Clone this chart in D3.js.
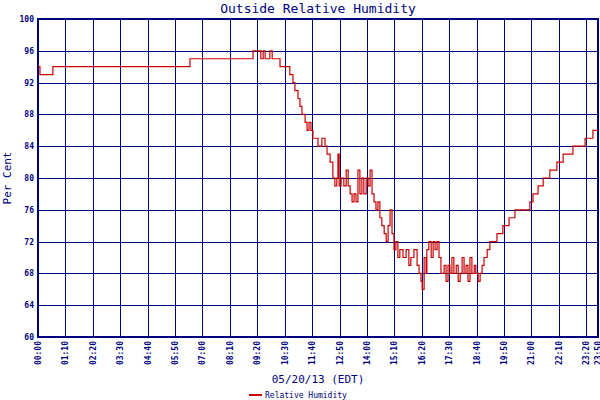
<!DOCTYPE html>
<html>
<head>
<meta charset="utf-8">
<script src="https://cdn.jsdelivr.net/npm/d3@7"></script>
<style>
  body { margin: 0; background: #fff; }
  text { font-family: "DejaVu Sans Mono", monospace; fill: #00007f; }
</style>
</head>
<body>
<div id="chart"></div>
<script>
// minutes since midnight, 05/20/13
var times = [0,5,38,388,549,569,575,580,592,598,618,643,651,656,664,669,674,682,687,692,697,702,715,725,733,738,746,753,758,763,766,769,774,781,787,792,797,802,807,812,817,822,827,832,838,843,848,853,858,863,868,873,878,884,889,894,899,904,909,914,919,924,932,940,947,952,960,968,973,978,981,986,991,993,998,1004,1009,1014,1019,1024,1029,1037,1042,1047,1052,1057,1062,1068,1073,1078,1083,1088,1093,1098,1103,1108,1114,1118,1124,1129,1134,1139,1147,1154,1164,1172,1187,1203,1218,1256,1264,1277,1290,1307,1325,1341,1366,1397,1417,1430];
var humidity = [94,93,94,95,96,95,96,95,96,95,94,93,92,91,90,89,88,87,86,87,86,85,84,85,84,83,82,80,79,80,83,79,80,79,81,79,78,77,78,77,81,78,80,78,80,79,81,78,77,76,77,75,74,73,72,74,76,73,71,72,70,71,70,71,69,70,71,69,68,67,66,70,68,71,72,70,72,71,72,70,68,69,67,69,68,70,68,69,67,68,70,68,69,67,70,68,69,68,67,68,69,70,71,72,72,73,74,75,76,77,78,79,80,81,82,83,84,85,86,86];
var xTicks = ["00:00","01:10","02:20","03:30","04:40","05:50","07:00","08:10","09:20","10:30","11:40","12:50","14:00","15:10","16:20","17:30","18:40","19:50","21:00","22:10","23:20","23:50"];
var yTicks = [60,64,68,72,76,80,84,88,92,96,100];

var margin = { top: 19, right: 2, bottom: 63, left: 38 };
var width = 600 - margin.left - margin.right;
var height = 400 - margin.top - margin.bottom;
var navy = "#00007f";

function toMin(s) { var p = s.split(":"); return +p[0] * 60 + +p[1]; }

var svg = d3.select("#chart").append("svg")
    .attr("width", 600).attr("height", 400);
var g = svg.append("g")
    .attr("transform", "translate(" + margin.left + "," + margin.top + ")");

var x = d3.scaleLinear().domain([0, 1430]).range([0, width]);
var y = d3.scaleLinear().domain([60, 100]).range([height, 0]);

// grid
g.selectAll(".hg").data(yTicks).enter().append("line")
    .attr("x1", 0).attr("x2", width)
    .attr("y1", function(d) { return Math.round(y(d)) + 0.5; }).attr("y2", function(d) { return Math.round(y(d)) + 0.5; })
    .attr("stroke", navy).attr("stroke-width", 1);
g.selectAll(".vg").data(xTicks).enter().append("line")
    .attr("x1", function(d) { return Math.round(x(toMin(d))) + 0.5; }).attr("x2", function(d) { return Math.round(x(toMin(d))) + 0.5; })
    .attr("y1", 0).attr("y2", height)
    .attr("stroke", navy).attr("stroke-width", 1);
g.append("rect").attr("width", width).attr("height", height)
    .attr("fill", "none").attr("stroke", navy).attr("stroke-width", 2);

// axes labels
g.append("g").attr("transform", "translate(-4,0)")
    .call(d3.axisLeft(y).tickValues(yTicks).tickSize(0).tickPadding(0))
    .call(function(a) { a.select(".domain").remove(); })
    .selectAll("text").style("font-size", "8px").style("font-weight", "bold").attr("fill", navy);

g.selectAll(".xl").data(xTicks).enter().append("text")
    .attr("transform", function(d) { return "translate(" + (x(toMin(d)) + 3) + "," + (height + 4) + ") rotate(-90)"; })
    .attr("text-anchor", "end")
    .style("font-size", "8px").style("font-weight", "bold")
    .text(function(d) { return d; });

// line
var line = d3.line()
    .x(function(d, i) { return x(times[i]); })
    .y(function(d) { return y(d); })
    .curve(d3.curveStepAfter);
g.append("path").datum(humidity)
    .attr("d", line).attr("fill", "none")
    .attr("stroke", "#cc0000").attr("stroke-width", 1.2);

// titles
svg.append("text").attr("x", 318).attr("y", 13).attr("text-anchor", "middle")
    .style("font-size", "13px").text("Outside Relative Humidity");
svg.append("text").attr("transform", "translate(11,178) rotate(-90)").attr("text-anchor", "middle")
    .style("font-size", "11px").text("Per Cent");
svg.append("text").attr("x", 318).attr("y", 383).attr("text-anchor", "middle")
    .style("font-size", "11px").text("05/20/13 (EDT)");

// legend
svg.append("line").attr("x1", 249).attr("x2", 262).attr("y1", 395).attr("y2", 395)
    .attr("stroke", "#cc0000").attr("stroke-width", 2);
svg.append("text").attr("x", 265).attr("y", 398)
    .style("font-size", "8px").text("Relative Humidity");
</script>
</body>
</html>
